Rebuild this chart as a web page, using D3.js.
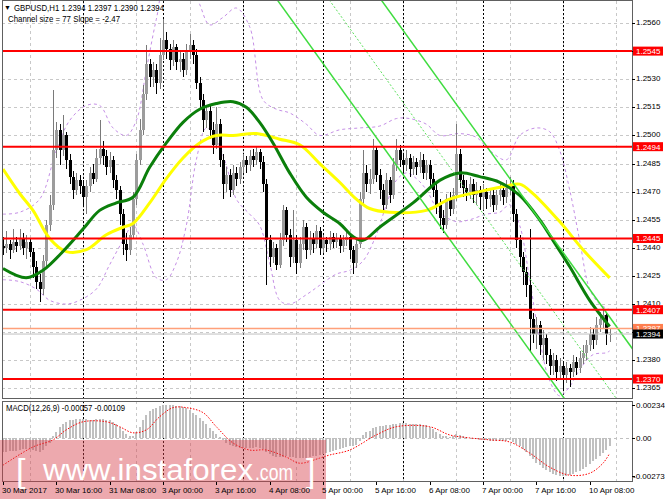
<!DOCTYPE html>
<html><head><meta charset="utf-8">
<script src="https://cdn.jsdelivr.net/npm/d3@7"></script>
<style>body{margin:0;background:#fff;}svg{display:block;}text{font-family:"Liberation Sans",Arial,sans-serif;}</style>
</head><body><svg id="c" width="665" height="499"></svg>
<script>
// ---------- DATA ----------
const dateLabels=["30 Mar 2017","30 Mar 16:00","31 Mar 08:00","3 Apr 00:00","3 Apr 16:00","4 Apr 08:00","5 Apr 00:00","5 Apr 16:00","6 Apr 08:00","7 Apr 00:00","7 Apr 16:00","10 Apr 08:00"];
const dateLabelBars=[0,16,32,48,64,80,96,112,128,144,160,176];
const daySeparatorBars=[24,48,72,96,120,144,168];
const gridBars=[8,24,40,56,72,88,104,120,136,152,168,184];
const priceTicks=[1.2365,1.2380,1.2395,1.2410,1.2425,1.2440,1.2455,1.2470,1.2485,1.2500,1.2515,1.2530,1.2545,1.2560];
const hiddenTickLabels=[1.2395,1.2545];
const macdTicks=[0.00234,0,-0.00273];
const levels=[1.2545,1.2494,1.2445,1.2407,1.2370];
const askPrice=1.2397, bidPrice=1.2394;
const channelAnchorBar=148, channelAnchorPrice=1.2487, channelSlope=-0.000247, channelSize=0.0077;

const open=[1.2441,1.2440,1.2442,1.2439,1.2443,1.2441,1.2445,1.2440,1.2443,1.2438,
1.2430,1.2422,1.2418,1.2433,1.2452,1.2463,1.2492,1.2503,1.2492,1.2500,
1.2487,1.2478,1.2471,1.2476,1.2473,1.2467,1.2473,1.2480,1.2477,1.2488,
1.2493,1.2489,1.2483,1.2487,1.2476,1.2471,1.2458,1.2442,1.2439,1.2447,
1.2466,1.2487,1.2503,1.2522,1.2538,1.2531,1.2535,1.2528,1.2543,1.2551,
1.2546,1.2540,1.2547,1.2539,1.2541,1.2535,1.2545,1.2548,1.2543,1.2528,
1.2519,1.2508,1.2513,1.2503,1.2495,1.2506,1.2487,1.2474,1.2479,1.2471,
1.2480,1.2477,1.2483,1.2487,1.2484,1.2489,1.2487,1.2491,1.2486,1.2474,
1.2444,1.2435,1.2440,1.2431,1.2444,1.2460,1.2447,1.2435,1.2444,1.2432,
1.2442,1.2451,1.2439,1.2445,1.2442,1.2449,1.2440,1.2444,1.2442,1.2446,
1.2443,1.2445,1.2441,1.2444,1.2446,1.2439,1.2432,1.2442,1.2466,1.2480,
1.2474,1.2477,1.2492,1.2479,1.2471,1.2463,1.2476,1.2468,1.2484,1.2492,
1.2487,1.2484,1.2488,1.2482,1.2486,1.2483,1.2487,1.2480,1.2484,1.2477,
1.2471,1.2463,1.2456,1.2452,1.2466,1.2461,1.2468,1.2490,1.2476,1.2472,
1.2470,1.2474,1.2468,1.2471,1.2467,1.2470,1.2466,1.2468,1.2463,1.2468,
1.2471,1.2467,1.2472,1.2474,1.2458,1.2444,1.2435,1.2427,1.2420,1.2402,
1.2394,1.2399,1.2388,1.2392,1.2383,1.2377,1.2380,1.2374,1.2377,1.2372,
1.2376,1.2374,1.2379,1.2376,1.2381,1.2384,1.2388,1.2394,1.2391,1.2399,
1.2402,1.2404,1.2394];
const high=[1.2446,1.2449,1.2444,1.2450,1.2446,1.2450,1.2448,1.2447,1.2445,1.2440,
1.2433,1.2426,1.2436,1.2455,1.2468,1.2524,1.2507,1.2506,1.2511,1.2502,
1.2490,1.2481,1.2480,1.2479,1.2476,1.2476,1.2483,1.2485,1.2493,1.2508,
1.2497,1.2492,1.2491,1.2489,1.2479,1.2473,1.2461,1.2448,1.2451,1.2470,
1.2490,1.2509,1.2527,1.2548,1.2541,1.2539,1.2538,1.2552,1.2562,1.2555,
1.2549,1.2551,1.2549,1.2545,1.2544,1.2549,1.2554,1.2551,1.2546,1.2531,
1.2522,1.2516,1.2516,1.2507,1.2515,1.2509,1.2490,1.2483,1.2482,1.2484,
1.2483,1.2486,1.2490,1.2489,1.2492,1.2493,1.2494,1.2493,1.2489,1.2477,
1.2447,1.2443,1.2442,1.2448,1.2463,1.2462,1.2450,1.2460,1.2447,1.2446,
1.2455,1.2453,1.2449,1.2448,1.2452,1.2451,1.2447,1.2446,1.2449,1.2448,
1.2448,1.2447,1.2447,1.2449,1.2448,1.2441,1.2446,1.2470,1.2492,1.2484,
1.2482,1.2498,1.2494,1.2482,1.2474,1.2480,1.2478,1.2488,1.2498,1.2495,
1.2490,1.2492,1.2490,1.2489,1.2488,1.2491,1.2490,1.2487,1.2487,1.2480,
1.2474,1.2466,1.2460,1.2469,1.2470,1.2472,1.2506,1.2493,1.2479,1.2476,
1.2478,1.2477,1.2475,1.2473,1.2474,1.2472,1.2472,1.2471,1.2471,1.2475,
1.2474,1.2476,1.2478,1.2476,1.2461,1.2447,1.2438,1.2430,1.2450,1.2405,
1.2403,1.2401,1.2396,1.2394,1.2386,1.2384,1.2383,1.2381,1.2379,1.2379,
1.2378,1.2383,1.2382,1.2385,1.2388,1.2391,1.2398,1.2397,1.2403,1.2406,
1.2408,1.2406,1.2397];
const low=[1.2436,1.2437,1.2434,1.2437,1.2438,1.2439,1.2436,1.2434,1.2435,1.2424,
1.2418,1.2411,1.2415,1.2430,1.2449,1.2460,1.2488,1.2484,1.2489,1.2482,
1.2474,1.2466,1.2468,1.2469,1.2462,1.2458,1.2470,1.2474,1.2475,1.2485,
1.2484,1.2479,1.2480,1.2472,1.2466,1.2452,1.2436,1.2433,1.2436,1.2445,
1.2463,1.2484,1.2500,1.2519,1.2526,1.2526,1.2522,1.2525,1.2540,1.2541,
1.2535,1.2537,1.2535,1.2534,1.2531,1.2532,1.2541,1.2538,1.2525,1.2514,
1.2502,1.2504,1.2498,1.2490,1.2493,1.2483,1.2466,1.2470,1.2467,1.2468,
1.2473,1.2474,1.2480,1.2480,1.2481,1.2483,1.2484,1.2482,1.2470,1.2420,
1.2430,1.2432,1.2428,1.2429,1.2441,1.2443,1.2430,1.2432,1.2426,1.2429,
1.2439,1.2434,1.2436,1.2437,1.2440,1.2436,1.2437,1.2438,1.2439,1.2440,
1.2440,1.2437,1.2438,1.2441,1.2434,1.2426,1.2429,1.2440,1.2463,1.2470,
1.2469,1.2474,1.2475,1.2466,1.2460,1.2461,1.2464,1.2466,1.2481,1.2483,
1.2480,1.2481,1.2478,1.2479,1.2479,1.2480,1.2477,1.2476,1.2473,1.2467,
1.2458,1.2450,1.2448,1.2450,1.2457,1.2458,1.2465,1.2472,1.2467,1.2465,
1.2466,1.2464,1.2463,1.2460,1.2460,1.2461,1.2462,1.2459,1.2460,1.2465,
1.2463,1.2464,1.2468,1.2454,1.2440,1.2430,1.2420,1.2414,1.2385,1.2389,
1.2386,1.2383,1.2380,1.2378,1.2372,1.2372,1.2369,1.2370,1.2364,1.2368,
1.2366,1.2371,1.2372,1.2373,1.2378,1.2380,1.2385,1.2386,1.2388,1.2395,
1.2397,1.2388,1.2390];
const close=[1.2440,1.2442,1.2439,1.2443,1.2441,1.2445,1.2440,1.2443,1.2438,1.2430,
1.2422,1.2418,1.2433,1.2452,1.2463,1.2492,1.2503,1.2492,1.2500,1.2487,
1.2478,1.2471,1.2476,1.2473,1.2467,1.2473,1.2480,1.2477,1.2488,1.2493,
1.2489,1.2483,1.2487,1.2476,1.2471,1.2458,1.2442,1.2439,1.2447,1.2466,
1.2487,1.2503,1.2522,1.2538,1.2531,1.2535,1.2528,1.2543,1.2551,1.2546,
1.2540,1.2547,1.2539,1.2541,1.2535,1.2545,1.2548,1.2543,1.2528,1.2519,
1.2508,1.2513,1.2503,1.2495,1.2506,1.2487,1.2474,1.2479,1.2471,1.2480,
1.2477,1.2483,1.2487,1.2484,1.2489,1.2487,1.2491,1.2486,1.2474,1.2444,
1.2435,1.2440,1.2431,1.2444,1.2460,1.2447,1.2435,1.2444,1.2432,1.2442,
1.2451,1.2439,1.2445,1.2442,1.2449,1.2440,1.2444,1.2442,1.2446,1.2443,
1.2445,1.2441,1.2444,1.2446,1.2439,1.2432,1.2442,1.2466,1.2480,1.2474,
1.2477,1.2492,1.2479,1.2471,1.2463,1.2476,1.2468,1.2484,1.2492,1.2487,
1.2484,1.2488,1.2482,1.2486,1.2483,1.2487,1.2480,1.2484,1.2477,1.2471,
1.2463,1.2456,1.2452,1.2466,1.2461,1.2468,1.2490,1.2476,1.2472,1.2470,
1.2474,1.2468,1.2471,1.2467,1.2470,1.2466,1.2468,1.2463,1.2468,1.2471,
1.2467,1.2472,1.2474,1.2458,1.2444,1.2435,1.2427,1.2420,1.2402,1.2394,
1.2399,1.2388,1.2392,1.2383,1.2377,1.2380,1.2374,1.2377,1.2372,1.2376,
1.2374,1.2379,1.2376,1.2381,1.2384,1.2388,1.2394,1.2391,1.2399,1.2402,
1.2404,1.2394,1.2394];

const macdHist=[-0.00100,-0.00098,-0.00095,-0.00092,-0.00090,-0.00085,-0.00082,-0.00080,-0.00082,-0.00088,
-0.00095,-0.00098,-0.00085,-0.00060,-0.00035,0.00010,0.00045,0.00075,0.00100,0.00115,
0.00125,0.00130,0.00134,0.00136,0.00135,0.00132,0.00130,0.00130,0.00132,0.00135,
0.00134,0.00130,0.00124,0.00114,0.00100,0.00080,0.00050,0.00025,0.00012,0.00015,
0.00040,0.00080,0.00125,0.00165,0.00190,0.00205,0.00215,0.00224,0.00231,0.00234,
0.00233,0.00232,0.00228,0.00224,0.00218,0.00210,0.00195,0.00178,0.00160,0.00140,
0.00118,0.00095,0.00072,0.00048,0.00025,0.00005,-0.00015,-0.00035,-0.00050,-0.00060,
-0.00065,-0.00068,-0.00070,-0.00070,-0.00068,-0.00068,-0.00066,-0.00068,-0.00078,-0.00100,
-0.00115,-0.00125,-0.00135,-0.00138,-0.00132,-0.00130,-0.00135,-0.00138,-0.00145,-0.00145,
-0.00140,-0.00140,-0.00135,-0.00130,-0.00125,-0.00120,-0.00115,-0.00110,-0.00100,-0.00092,
-0.00085,-0.00080,-0.00072,-0.00065,-0.00060,-0.00060,-0.00050,-0.00020,0.00020,0.00040,
0.00050,0.00070,0.00080,0.00085,0.00085,0.00088,0.00090,0.00095,0.00100,0.00102,
0.00102,0.00103,0.00100,0.00100,0.00098,0.00096,0.00092,0.00088,0.00080,0.00065,
0.00045,0.00025,0.00010,0.00012,0.00008,0.00010,0.00025,0.00020,0.00010,0.00005,
0.00002,-0.00005,-0.00008,-0.00012,-0.00015,-0.00018,-0.00020,-0.00025,-0.00025,-0.00022,
-0.00022,-0.00020,-0.00018,-0.00030,-0.00045,-0.00060,-0.00080,-0.00100,-0.00125,-0.00150,
-0.00175,-0.00195,-0.00212,-0.00228,-0.00240,-0.00252,-0.00262,-0.00270,-0.00273,-0.00270,
-0.00262,-0.00252,-0.00242,-0.00232,-0.00220,-0.00205,-0.00185,-0.00165,-0.00148,-0.00130,
-0.00110,-0.00085,-0.00057];

const signalPts=[[0,-0.00193],[9,-0.00064],[15,-0.00014],[19,0.00057],[24,0.00114],[31,0.00114],[35,0.00079],[39,0.00036],[43,0.00057],[47,0.00150],[51,0.00214],[55,0.00214],[60,0.00179],[64,0.00079],[69,-0.00036],[74,-0.00086],[79,-0.00086],[85,-0.00136],[89,-0.00179],[95,-0.00143],[98,-0.00121],[104,-0.00086],[112,0.00021],[118,0.00079],[128,0.00079],[134,0.00021],[140,0.0],[146,-0.00014],[152,-0.00029],[158,-0.00107],[164,-0.00207],[170,-0.00264],[176,-0.00250],[180,-0.00179],[182,-0.00109]];

const maGreen=[[0,1.2429],[7,1.2424],[12,1.2428],[19,1.2440],[24,1.2450],[29,1.2460],[34,1.2464],[39,1.2467],[44,1.2483],[49,1.2496],[54,1.2507],[59,1.2514],[64,1.2517],[69,1.2518],[73,1.2515],[77,1.2507],[81,1.2496],[86,1.2480],[91,1.2467],[96,1.2459],[101,1.2453],[105,1.2446],[108,1.2444],[113,1.2451],[123,1.2464],[131,1.2476],[137,1.2480],[143,1.2478],[149,1.2475],[155,1.2468],[161,1.2455],[165,1.2444],[170,1.2430],[176,1.2412],[182,1.2398]];
const maYellow=[[0,1.2482],[5,1.2469],[9,1.2460],[14,1.2445],[19,1.2438],[25,1.2439],[31,1.2447],[36,1.2451],[39,1.2453],[44,1.2464],[49,1.2477],[54,1.2488],[59,1.2496],[64,1.2500],[69,1.2500],[76,1.2501],[83,1.2498],[89,1.2495],[95,1.2485],[101,1.2475],[106,1.2466],[110,1.2461],[116,1.2459],[127,1.2460],[134,1.2466],[143,1.2470],[151,1.2473],[155,1.2474],[159,1.2469],[167,1.2454],[174,1.2439],[182,1.2424]];
const bandUpper=[[0,1.2458],[5,1.2459],[11,1.2466],[16,1.2492],[20,1.2508],[25,1.2516],[29,1.2516],[33,1.2504],[37,1.2500],[40,1.2508],[43,1.2535],[46,1.2562],[49,1.2583],[55,1.2588],[59,1.2570],[62,1.2559],[66,1.2563],[70,1.2568],[74,1.2558],[78,1.2519],[82,1.2514],[86,1.2512],[91,1.2506],[95,1.2500],[101,1.2503],[107,1.2504],[113,1.2505],[118,1.2509],[122,1.2509],[127,1.2506],[131,1.2500],[137,1.2501],[142,1.2499],[146,1.2492],[151,1.2487],[155,1.2500],[160,1.2504],[164,1.2502],[167,1.2492],[170,1.2471],[173,1.2444],[176,1.2418],[179,1.2410],[182,1.2407]];
const bandLower=[[0,1.2423],[5,1.2422],[10,1.2418],[14,1.2412],[19,1.2410],[23,1.2412],[28,1.2418],[32,1.2431],[36,1.2444],[39,1.2452],[42,1.2442],[46,1.2424],[49,1.2423],[52,1.2432],[55,1.2452],[58,1.2487],[61,1.2504],[64,1.2498],[67,1.2484],[70,1.2466],[74,1.2458],[77,1.2452],[80,1.2432],[83,1.2412],[86,1.2410],[91,1.2415],[95,1.2420],[100,1.2426],[104,1.2428],[108,1.2433],[112,1.2447],[115,1.2463],[118,1.2476],[121,1.2480],[124,1.2477],[127,1.2471],[131,1.2459],[136,1.2454],[140,1.2455],[145,1.2458],[149,1.2459],[152,1.2463],[155,1.2452],[158,1.2423],[161,1.2391],[164,1.2369],[167,1.2361],[170,1.2366],[173,1.2375],[177,1.2383],[181,1.2384],[182,1.2385]];

// ---------- SCALES ----------
const svg=d3.select('#c');
const x=d3.scaleLinear().domain([0,188.7]).range([3,632]);
const y=d3.scaleLinear().domain([1.23604,1.257121]).range([397,2]);
const ym=d3.scaleLinear().domain([-0.00305,0.00261]).range([481,401]);
const px=v=>Math.round(x(v))+0.5;

const defs=svg.append('defs');
defs.append('clipPath').attr('id','mc').append('rect').attr('x',2).attr('y',1).attr('width',630).attr('height',397);
defs.append('clipPath').attr('id','dc').append('rect').attr('x',2).attr('y',401).attr('width',630).attr('height',80);

// ---------- GRID ----------
const grid=svg.append('g');
grid.selectAll('.hg').data(priceTicks).join('line')
 .attr('x1',2).attr('x2',632).attr('y1',d=>Math.round(y(d))+0.5).attr('y2',d=>Math.round(y(d))+0.5)
 .attr('stroke','#c8c8c8').attr('stroke-dasharray','3,3');
[[1,398],[401,481]].forEach(([a,b])=>{
 grid.append('g').selectAll('line').data(gridBars).join('line')
  .attr('x1',d=>px(d)).attr('x2',d=>px(d)).attr('y1',a).attr('y2',b)
  .attr('stroke','#c8c8c8').attr('stroke-dasharray','3,3');
 grid.append('g').selectAll('line').data(daySeparatorBars).join('line')
  .attr('x1',d=>px(d)).attr('x2',d=>px(d)).attr('y1',a).attr('y2',b)
  .attr('stroke','#000').attr('stroke-dasharray','2,2');
});

// ---------- MAIN PANEL ----------
const main=svg.append('g').attr('clip-path','url(#mc)');
const curve=d3.line().x(d=>x(d[0])).y(d=>y(d[1])).curve(d3.curveCatmullRom);
[bandUpper,bandLower].forEach(b=>main.append('path').attr('d',curve(b)).attr('fill','none')
 .attr('stroke','#c58fe6').attr('stroke-width',1).attr('stroke-dasharray','3,3'));

const idx=d3.range(close.length);
const cg=main.append('g').attr('shape-rendering','crispEdges');
cg.selectAll('.wk').data(idx).join('line')
 .attr('x1',d=>px(d)).attr('x2',d=>px(d)).attr('y1',d=>y(high[d])).attr('y2',d=>y(low[d]))
 .attr('stroke',d=>close[d]>=open[d]?'#7a7a7a':'#000').attr('stroke-width',1);
cg.selectAll('.bd').data(idx).join('rect')
 .attr('x',d=>Math.round(x(d))-1).attr('width',3)
 .attr('y',d=>y(Math.max(open[d],close[d])))
 .attr('height',d=>Math.max(1,Math.abs(y(open[d])-y(close[d]))))
 .attr('fill',d=>close[d]>=open[d]?'#9c9c9c':'#000');

main.append('path').attr('d',curve(maYellow)).attr('fill','none').attr('stroke','#ffff00').attr('stroke-width',3);
main.append('path').attr('d',curve(maGreen)).attr('fill','none').attr('stroke','#0b7f0b').attr('stroke-width',3);

// regression channel
const chan=off=>{const b0=60,b1=190;return [[b0,channelAnchorPrice+(b0-channelAnchorBar)*channelSlope-off],[b1,channelAnchorPrice+(b1-channelAnchorBar)*channelSlope-off]];};
const lin=d3.line().x(d=>x(d[0])).y(d=>y(d[1]));
main.append('path').attr('d',lin(chan(0))).attr('stroke','#3fdc3f').attr('stroke-width',1.5).attr('fill','none');
main.append('path').attr('d',lin(chan(channelSize))).attr('stroke','#3fdc3f').attr('stroke-width',1.5).attr('fill','none');
main.append('path').attr('d',lin(chan(channelSize/2))).attr('stroke','#5ee05e').attr('stroke-width',1).attr('stroke-dasharray','2,2').attr('fill','none');

// horizontal levels
main.append('line').attr('x1',2).attr('x2',632).attr('y1',y(askPrice)).attr('y2',y(askPrice)).attr('stroke','#ffa07a').attr('stroke-width',1.5);
main.append('line').attr('x1',2).attr('x2',632).attr('y1',y(bidPrice)).attr('y2',y(bidPrice)).attr('stroke','#c0c0c0').attr('stroke-width',1);
main.selectAll('.lv').data(levels).join('line')
 .attr('x1',2).attr('x2',632).attr('y1',d=>y(d)).attr('y2',d=>y(d)).attr('stroke','#ff0000').attr('stroke-width',2);

// ---------- MACD ----------
const mg=svg.append('g').attr('clip-path','url(#dc)');
mg.append('line').attr('x1',2).attr('x2',632).attr('y1',Math.round(ym(0))+0.5).attr('y2',Math.round(ym(0))+0.5)
 .attr('stroke','#c0c0c0').attr('stroke-dasharray','3,3');
mg.append('g').attr('shape-rendering','crispEdges').selectAll('rect').data(idx).join('rect')
 .attr('x',d=>Math.round(x(d))-1).attr('width',2)
 .attr('y',d=>Math.min(ym(0),ym(macdHist[d]))).attr('height',d=>Math.abs(ym(0)-ym(macdHist[d])))
 .attr('fill','#c0c0c0');
mg.append('path').attr('d',d3.line().x(d=>x(d[0])).y(d=>ym(d[1])).curve(d3.curveCatmullRom)(signalPts))
 .attr('fill','none').attr('stroke','#ff0000').attr('stroke-width',1).attr('stroke-dasharray','1.5,1.5');

// frames
svg.append('rect').attr('x',2.5).attr('y',0.5).attr('width',630).attr('height',398).attr('fill','none').attr('stroke','#606060');
svg.append('rect').attr('x',2.5).attr('y',401.5).attr('width',630).attr('height',80).attr('fill','none').attr('stroke','#606060');

// ---------- WATERMARK ----------
svg.append('rect').attr('x',0).attr('y',440).attr('width',326).attr('height',59).attr('fill','#d8404c').attr('opacity',0.45);
const wm=svg.append('g').attr('fill','#fff');
wm.append('text').attr('x',16).attr('y',482).attr('font-size',34).text('[');
wm.append('text').attr('x',43).attr('y',480).attr('font-size',29).attr('textLength',210).attr('lengthAdjust','spacingAndGlyphs').text('www.instaforex');
wm.append('text').attr('x',255).attr('y',480).attr('font-size',22).attr('textLength',38).attr('lengthAdjust','spacingAndGlyphs').text('.com');
wm.append('text').attr('x',306).attr('y',482).attr('font-size',34).text(']');

// ---------- AXES ----------
const ax=svg.append('g').attr('font-size',8).attr('fill','#000');
ax.selectAll('.pt').data(priceTicks.filter(d=>!hiddenTickLabels.includes(d))).join('text').attr('x',636).attr('y',d=>y(d)+2).text(d=>d.toFixed(4));
ax.selectAll('.ptk').data(priceTicks).join('line').attr('x1',632).attr('x2',635).attr('y1',d=>Math.round(y(d))+0.5).attr('y2',d=>Math.round(y(d))+0.5).attr('stroke','#000');
ax.selectAll('.mt').data(macdTicks).join('text').attr('x',d=>d<0?633:636).attr('y',d=>ym(d)+3)
 .text(d=>d===0?'0.00':d.toFixed(5));
ax.selectAll('.mtk').data(macdTicks).join('line').attr('x1',632).attr('x2',635).attr('y1',d=>Math.round(ym(d))+0.5).attr('y2',d=>Math.round(ym(d))+0.5).attr('stroke','#000');
ax.selectAll('.dl').data(dateLabelBars).join('text').attr('x',d=>Math.round(x(d))-1).attr('y',493).text((d,i)=>dateLabels[i]);
ax.selectAll('.dtk').data(dateLabelBars).join('line').attr('x1',d=>px(d)).attr('x2',d=>px(d)).attr('y1',482).attr('y2',485).attr('stroke','#000');

// price label boxes
const box=(v,fill)=>{const g=svg.append('g');
 g.append('rect').attr('x',633).attr('y',y(v)-4.5).attr('width',30).attr('height',9).attr('fill',fill);
 g.append('text').attr('x',636).attr('y',y(v)+3).attr('font-size',8).attr('fill','#fff').text(v.toFixed(4));};
levels.forEach(v=>box(v,'#ff0000'));
box(askPrice,'#ff7f50');
box(bidPrice,'#000');

// ---------- TEXTS ----------
const tx=svg.append('g').attr('fill','#000');
tx.append('text').attr('x',4).attr('y',10).attr('font-size',7).text('▼');
tx.append('text').attr('x',14).attr('y',11).attr('font-size',9).attr('textLength',150).attr('lengthAdjust','spacingAndGlyphs').text('GBPUSD,H1  1.2394 1.2397 1.2390 1.2394');
tx.append('text').attr('x',8).attr('y',22).attr('font-size',9).attr('textLength',112).attr('lengthAdjust','spacingAndGlyphs').text('Channel size = 77 Slope = -2.47');
tx.append('text').attr('x',6).attr('y',411).attr('font-size',9).attr('textLength',119).attr('lengthAdjust','spacingAndGlyphs').text('MACD(12,26,9) -0.00057 -0.00109');
</script></body></html>
